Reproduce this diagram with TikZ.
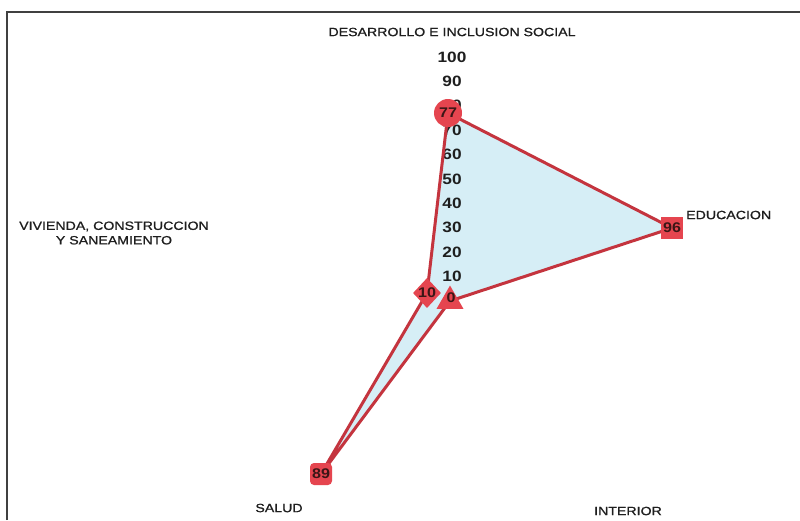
\documentclass[tikz,border=0pt]{standalone}
\usepackage{fontspec}
\setmainfont{Liberation Sans}
\newfontfamily\labfont[FakeStretch=1.15]{Liberation Sans}
\newfontfamily\axfont[FakeStretch=1.18,FakeBold=0.9]{Liberation Sans}
\usetikzlibrary{shapes.geometric}
\definecolor{mk}{HTML}{E5454F}
\definecolor{ln}{HTML}{C4343E}
\definecolor{fillb}{HTML}{D6EEF6}
\definecolor{txt}{HTML}{1E1E1E}
\definecolor{valtxt}{HTML}{3A1616}
\begin{document}
\begin{tikzpicture}[x=1pt,y=-1pt,
  axislab/.style={font=\axfont\fontsize{12}{14.5}\selectfont, text=txt, inner sep=0pt, align=center},
  scalelab/.style={font=\labfont\bfseries\fontsize{15}{17}\selectfont, text=txt, inner sep=0pt},
  valfont/.style={font=\labfont\bfseries\fontsize{14}{16}\selectfont, text=valtxt},
  mcircle/.style={valfont, circle, fill=mk, minimum size=28pt, inner sep=0pt},
  msquare/.style={valfont, rectangle, fill=mk, minimum size=22pt, inner sep=0pt},
  mround/.style={valfont, rectangle, rounded corners=4pt, fill=mk, minimum size=22pt, inner sep=0pt},
  mdiamond/.style={valfont, diamond, fill=mk, minimum width=28pt, minimum height=30pt, inner sep=0pt},
  mtri/.style={valfont, regular polygon, regular polygon sides=3, fill=mk, minimum size=31pt, inner sep=0pt},
  polyline/.style={draw=ln, line width=3pt, line join=round},
  frameline/.style={draw=black!75, line width=2pt}
]
\useasboundingbox (0,0) rectangle (800,520);
\fill[white] (0,0) rectangle (800,520);
\draw[frameline] (7,520) -- (7,12) -- (800,12);

% data points (centre 450,301; radius 244)
\coordinate (pD) at (448,113);
\coordinate (pE) at (672,228);
\coordinate (pI) at (450,301);
\coordinate (pS) at (321,474);
\coordinate (pV) at (427,293);

\fill[fillb] (pD) -- (pE) -- (pI) -- (pS) -- (pV) -- cycle;

% scale labels
\foreach \v in {10,20,...,100} {
  \node[scalelab] (s\v) at (452,{301-2.44*\v}) {\v};
}

\draw[polyline] (pD) -- (pE) -- (pI) -- (pS) -- (pV) -- cycle;

% markers
\node[mcircle] (mD) at (pD) {77};
\node[msquare] (mE) at (pE) {96};
\node[mtri] (mI) at (pI) {};
\node[valfont, inner sep=0pt] (vI) at (451,298) {0};
\node[mround] (mS) at (pS) {89};
\node[mdiamond] (mV) at (pV) {10};

% axis labels
\node[axislab] (lD) at (452,32) {DESARROLLO E INCLUSION SOCIAL};
\node[axislab, anchor=west] (lE) at (686,215) {EDUCACION};
\node[axislab] (lI) at (628,511) {INTERIOR};
\node[axislab] (lS) at (279,508) {SALUD};
\node[axislab] (lV) at (114,233) {VIVIENDA, CONSTRUCCION\\Y SANEAMIENTO};
\end{tikzpicture}
\end{document}
